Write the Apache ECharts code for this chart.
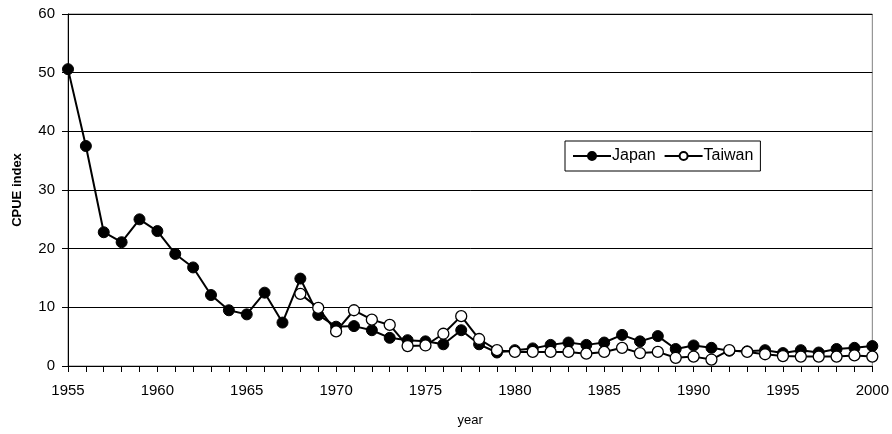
<!DOCTYPE html>
<html>
<head>
<meta charset="utf-8">
<script src="https://cdn.jsdelivr.net/npm/echarts@6/dist/echarts.min.js"></script>
<style>html,body{margin:0;padding:0;background:#fff}#c{width:892px;height:434px}</style>
</head>
<body>
<div id="c"></div>
<script>
var years = [];
for (var y = 1955; y <= 2000; y++) years.push(String(y));

var japan = [50.6, 37.5, 22.8, 21.1, 25.0, 23.0, 19.1, 16.8, 12.1, 9.5,
  8.8, 12.5, 7.4, 14.9, 8.7, 6.7, 6.8, 6.1, 4.8, 4.4,
  4.2, 3.7, 6.1, 3.7, 2.3, 2.7, 3.0, 3.6, 4.0, 3.6,
  4.0, 5.3, 4.2, 5.1, 2.9, 3.5, 3.1, 2.6, 2.5, 2.7,
  2.2, 2.7, 2.3, 2.9, 3.1, 3.4];

var taiwan = [null, null, null, null, null, null, null, null, null, null,
  null, null, null, 12.3, 9.9, 5.9, 9.5, 7.9, 7.0, 3.4,
  3.5, 5.5, 8.5, 4.6, 2.7, 2.4, 2.4, 2.4, 2.4, 2.1,
  2.4, 3.1, 2.2, 2.4, 1.4, 1.6, 1.1, 2.7, 2.4, 2.0,
  1.7, 1.6, 1.6, 1.6, 1.8, 1.6];

var yTicks = {min: 0, max: 60, interval: 10};

var chart = echarts.init(document.getElementById('c'), null, {renderer: 'canvas'});
var font = 'Liberation Sans, Arial, sans-serif';
chart.setOption({
  animation: false,
  grid: {left: 68, right: 10, top: 14, bottom: 68, show: true, borderColor: '#808080', borderWidth: 1},
  legend: {
    data: ['Japan', 'Taiwan'],
    left: 565, top: 141,
    padding: [7, 7, 7, 7],
    itemGap: 8,
    itemWidth: 38, itemHeight: 10,
    borderColor: '#000', borderWidth: 1,
    backgroundColor: '#fff',
    textStyle: {fontFamily: font, fontSize: 16, color: '#000', padding: [0, 0, 0, -4]}
  },
  xAxis: {
    type: 'category', data: years, boundaryGap: false,
    name: 'year', nameLocation: 'middle', nameGap: 48,
    nameTextStyle: {fontFamily: font, fontSize: 13, color: '#000'},
    axisLine: {lineStyle: {color: '#000', width: 1}},
    axisTick: {show: true, interval: 0, length: 6, lineStyle: {color: '#000'}},
    axisLabel: {interval: 4, fontFamily: font, fontSize: 15, color: '#000', margin: 17},
    splitLine: {show: false}
  },
  yAxis: {
    type: 'value', min: yTicks.min, max: yTicks.max, interval: yTicks.interval,
    name: 'CPUE index', nameLocation: 'middle', nameGap: 44, nameRotate: 90,
    nameTextStyle: {fontFamily: font, fontSize: 13, fontWeight: 'bold', color: '#000'},
    axisLine: {show: true, lineStyle: {color: '#000', width: 1}},
    axisTick: {show: true, length: 6, lineStyle: {color: '#000'}},
    axisLabel: {fontFamily: font, fontSize: 15, color: '#000', margin: 13},
    splitLine: {show: true, lineStyle: {color: '#000', width: 1}}
  },
  series: [
    {
      name: 'Japan', type: 'line', data: japan,
      symbol: 'circle', symbolSize: 11, showAllSymbol: true,
      lineStyle: {color: '#000', width: 2},
      itemStyle: {color: '#000', borderColor: '#000', borderWidth: 1},
      z: 2
    },
    {
      name: 'Taiwan', type: 'line', data: taiwan,
      symbol: 'circle', symbolSize: 11, showAllSymbol: true,
      lineStyle: {color: '#000', width: 2},
      itemStyle: {color: '#fff', borderColor: '#000', borderWidth: 1.3},
      z: 3
    }
  ]
});
</script>
</body>
</html>
